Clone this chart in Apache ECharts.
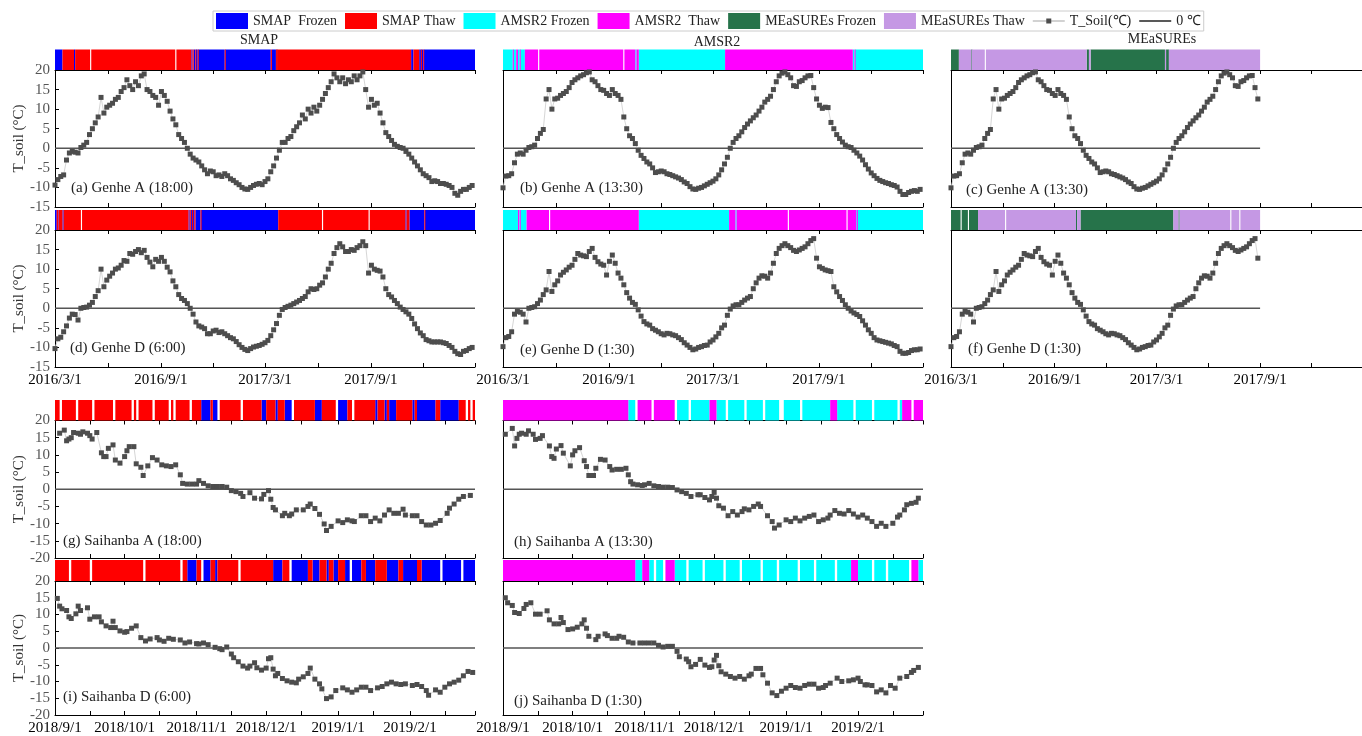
<!DOCTYPE html>
<html><head><meta charset="utf-8">
<script src="https://cdn.jsdelivr.net/npm/echarts@6/dist/echarts.min.js"></script>
<style>html,body{margin:0;padding:0;background:#fff}#c{width:1362px;height:736px}</style>
</head><body><div id="c"></div>
<script>
// ---------------- DATA ----------------
// Genhe soil temperature, one value every 5 days starting 2016-03-01
const genheStart = '2016-03-01';
const genheStepDays = 5;
const tGenheA_1800 = [-9.4,-8,-7.2,-6.8,-3,-1.2,-0.8,-1,-1.2,0.2,
 0.8,1.5,3.5,5,6.5,8,13,9,10.5,11,
 11.5,12.5,13,14.5,15.5,17.5,16,15,17,16,
 18.5,19,15,14.5,13.5,13,11,14.5,13.5,12,
 9.5,7.5,6,3.5,2.5,1.5,0,-1.5,-2.5,-3,
 -3.5,-4.5,-5.5,-6.5,-5.8,-6,-7,-6.8,-7.2,-6.5,
 -7,-7.8,-8.2,-8.8,-9.3,-10,-10.4,-10.5,-10,-9.5,
 -9.2,-9,-9.3,-8.5,-7.8,-6,-4.5,-2.5,-0.5,1.5,
 1.5,2.5,3,4.5,5.5,6.5,8.5,7.5,10,9,
 10.5,9.5,11,12.5,14,15.5,17,19,18,17,
 18,16.5,17.5,17,18.5,17.5,18.5,19.5,15,10.5,
 12.5,11,11.5,9,6.5,4,3,2,1,0.5,
 0.2,0,-0.8,-1.5,-2.5,-3.5,-4.5,-5.5,-6.5,-7,
 -7.5,-8.5,-8.3,-8.5,-9,-9,-9.2,-9.5,-10,-11.5,
 -12,-11,-10.5,-10.5,-10,-9.5];
const tGenheD_0600 = [-10.3,-7.8,-7.4,-6,-4.5,-2.5,-1.5,-1.6,-3,0,
 0.2,0.3,0.8,1.5,3,4.5,10,5.5,7.2,8.2,
 9,10,10.3,11,12.2,12,14,13.8,14.5,15,
 14.2,14.8,13,11.8,10.6,12.5,12,13,12,10.5,
 9.3,7,5.5,3.5,2.5,2,1.2,0,-1.5,-3.5,
 -4.5,-4.8,-5.2,-6.5,-6.5,-5.8,-5.6,-6.2,-6,-6.5,
 -7,-7.5,-7.8,-8.5,-9.3,-10,-10.5,-10.8,-10.3,-9.9,
 -9.7,-9.5,-9.2,-8.8,-8.2,-7,-5.5,-3.9,-1.8,-0.3,
 0.2,0.5,0.8,1.2,1.6,2,2.5,3,4.2,5,
 4.8,5,5.9,6.5,8,10,11.5,14,15.5,16.5,
 15.7,14.5,14.5,15,14.8,15.5,16,17,16,9,
 11,10,9.7,9.5,8,5,3.5,2.9,2,1.2,
 0.3,-0.3,-0.9,-1.5,-2.6,-4,-5.2,-6.3,-7,-8,
 -8.3,-8.6,-8.6,-8.6,-8.6,-8.8,-9,-9.5,-10,-11,
 -11.6,-11.8,-11,-10.8,-10.3,-10];
const tGenheA_1330 = [-10.1,-7.1,-7,-6.5,-3.7,-1.5,-1.2,-1.5,-0.5,0.2,
 0.4,0.8,2.5,3.8,4.8,12.6,15,10,12.6,12.8,
 13.5,14,14.5,15.5,16.8,17.5,18,18.5,18.8,19.3,
 19.5,17.5,17,16,15,14.8,14,13.5,15,14,
 13.5,12.5,8,5,3.2,2.5,1.2,-0.5,-1.8,-2.6,
 -3.5,-4,-5,-6.2,-6,-5.8,-6,-6.5,-6.7,-7,
 -7.3,-7.6,-8,-8.6,-9,-9.8,-10.4,-10.5,-10.2,-10,
 -9.6,-9.2,-8.8,-8.4,-7.8,-6.8,-5.5,-4,-2.3,0,
 1.5,2.5,3.2,4.2,5.3,6.2,7,7.8,8.5,9.5,
 10.5,11.8,12.5,13.3,15,17,18.5,19.2,19.5,18.8,
 18,16,15.8,17,17.3,18,18.5,18.6,15.5,12.6,
 11,10.2,10.5,10.4,6.6,5,3.5,2.5,1.6,0.8,
 0.4,0.2,-0.5,-1.2,-2,-3,-4.2,-5.3,-6.3,-7,
 -7.7,-8.2,-8.5,-8.8,-9,-9.3,-9.5,-9.9,-11,-11.8,
 -11.8,-11.3,-11,-10.8,-11,-10.5];
const tGenheD_0130 = [-9.8,-7.5,-7.2,-6,-1.5,-0.8,-1,-1.5,-3.5,0,
 0.2,0.4,1.2,2.1,3.5,4.7,9.4,4.3,6,7,
 8.5,9.2,9.8,10.5,11,12.5,14,13.6,13.4,13.2,
 14.5,15.3,13,11.9,11.3,11,8.5,12,13.6,11.5,
 9,7.7,6,4,2.6,1.5,1,-0.4,-2,-3.4,
 -4,-4.3,-5.2,-5.6,-6,-6.5,-6.8,-6.4,-6.5,-6.8,
 -7,-7.5,-8,-8.8,-9.4,-10,-10.6,-10.4,-10,-9.8,
 -9.5,-9.4,-8.6,-8.1,-7.3,-6.4,-5,-4.3,-1.8,-0.2,
 0.6,0.9,0.9,1.5,2.1,2.6,3,5,6.5,7.7,
 8.3,8.2,7.7,9,11.5,14,15.3,16,16.5,16,
 15.5,14.8,14.5,14.9,15.3,15.7,16.5,17.3,17.8,12.8,
 10.6,10.2,9.8,9.6,9.4,5.5,4.2,3,2,0.9,
 0,-0.7,-1.2,-1.6,-2.1,-3.2,-4.3,-5.5,-6.4,-7.5,
 -8.1,-8.3,-8.5,-8.7,-8.9,-9.1,-9.5,-9.8,-11,-11.5,
 -11.5,-11.3,-10.8,-10.6,-10.6,-10.4];

// Saihanba soil temperature ['M/D' (Sep-Dec 2018, Jan-Feb 2019), value]
const tSaiA_1800 = [['9/3',16.3],['9/5',17.2],['9/6',14.1],['9/7',14.6],['9/8',15],['9/9',16.5],['9/11',16.3],['9/12',16],['9/13',16.7],['9/15',16.3],['9/16',15.6],['9/17',14.6],['9/19',16.5],['9/21',10.6],['9/22',9.5],['9/23',9.5],['9/24',11.9],['9/26',12.9],['9/27',8.5],['9/29',7.6],
 ['10/1',9.5],['10/2',11.2],['10/3',12.4],['10/5',12.4],['10/6',7.4],['10/8',6.4],['10/9',4],['10/11',6.8],['10/13',9.2],['10/15',8.5],['10/17',7.1],['10/19',6.8],['10/21',6.6],['10/23',7.1],['10/25',4.2],['10/26',1.7],['10/28',1.5],['10/30',1.5],
 ['11/1',1.5],['11/2',2.5],['11/4',1.7],['11/6',1],['11/8',0.8],['11/10',0.8],['11/12',0.8],['11/14',0.6],['11/16',-0.4],['11/18',-0.7],['11/20',-1.2],['11/21',-2.1],['11/24',-1],['11/26',-2.6],['11/29',-2.8],['11/30',-1.5],
 ['12/2',-0.4],['12/3',-2.9],['12/4',-5.3],['12/5',-6],['12/8',-7.7],['12/9',-7],['12/11',-7.7],['12/12',-7.2],['12/14',-6],['12/17',-6],['12/19',-5],['12/20',-4.3],['12/22',-5.6],['12/24',-7.3],['12/26',-10.1],['12/27',-12],['12/29',-10.8],
 ['1/1',-9.2],['1/3',-9.7],['1/5',-8.9],['1/7',-9.2],['1/8',-9.4],['1/11',-7.7],['1/13',-7.7],['1/15',-9.4],['1/17',-8.4],['1/19',-9.2],['1/21',-7.5],['1/23',-6],['1/25',-7],['1/27',-7],['1/29',-5.8],['1/30',-7.5],
 ['2/2',-7.7],['2/4',-7.7],['2/6',-9.4],['2/8',-10.4],['2/10',-10.4],['2/12',-9.9],['2/14',-9.1],['2/17',-7],['2/18',-5.5],['2/20',-4.3],['2/22',-2.9],['2/24',-2.1],['2/27',-1.8]];
const tSaiD_0600 = [['9/2',14.8],['9/3',12.5],['9/4',11.7],['9/6',11.2],['9/7',9.3],['9/8',8.8],['9/10',10.2],['9/11',12.5],['9/12',11.2],['9/15',12],['9/16',8.6],['9/18',9.3],['9/20',9.3],['9/21',7.8],['9/23',6.6],['9/25',6.1],['9/26',8],['9/27',6.1],['9/29',5.1],
 ['10/1',4.7],['10/2',4.9],['10/4',5.9],['10/6',6.6],['10/8',3.1],['10/10',2.1],['10/12',2.7],['10/15',3.1],['10/16',2.4],['10/18',2],['10/20',2.9],['10/22',2.6],['10/25',2.4],['10/27',1.5],['10/29',1.8],
 ['11/1',1.3],['11/2',1.2],['11/4',1.5],['11/6',1],['11/9',0.2],['11/11',-0.2],['11/12',-0.5],['11/14',0.3],['11/16',-1.8],['11/17',-2.9],['11/19',-4.1],['11/21',-5.4],['11/23',-6],['11/24',-5.4],['11/26',-4.4],['11/27',-5.9],['11/29',-6.6],
 ['12/1',-6],['12/2',-3.2],['12/3',-2.9],['12/4',-6.3],['12/5',-8.3],['12/6',-7.6],['12/8',-9.1],['12/10',-9.8],['12/12',-10.2],['12/14',-10.4],['12/15',-9.3],['12/17',-8.6],['12/19',-7.6],['12/20',-6],['12/22',-9.3],['12/24',-10.7],['12/25',-12.2],['12/27',-15.1],['12/29',-14.6],['12/31',-12.7],
 ['1/3',-11.9],['1/5',-12.5],['1/7',-13.2],['1/9',-12.5],['1/11',-11.7],['1/13',-11.7],['1/15',-12.7],['1/18',-11.9],['1/20',-11.5],['1/22',-10.7],['1/24',-10.2],['1/26',-10.7],['1/28',-10.9],['1/30',-10.7],
 ['2/2',-11.2],['2/4',-10.9],['2/6',-11.5],['2/8',-12.7],['2/9',-14.1],['2/12',-12.5],['2/14',-13.2],['2/16',-11.7],['2/18',-10.7],['2/20',-10.2],['2/22',-9.6],['2/24',-8.3],['2/26',-7],['2/28',-7.3]];
const tSaiA_1330 = [['9/2',16],['9/5',17.7],['9/6',12.6],['9/7',14.8],['9/8',16],['9/9',16.3],['9/11',16],['9/12',17],['9/14',16],['9/15',14.5],['9/17',14.8],['9/18',15.6],['9/21',12.6],['9/22',9.5],['9/23',9],['9/24',11.7],['9/26',12.7],['9/27',10.5],['9/30',6.8],
 ['10/1',10],['10/2',11.2],['10/4',12.1],['10/6',8.3],['10/7',6.6],['10/8',4],['10/10',4],['10/11',6.1],['10/13',8.7],['10/15',8.5],['10/17',6.6],['10/18',5.6],['10/20',5.8],['10/22',5.8],['10/24',6.1],['10/25',4.2],['10/26',2.2],['10/27',1.5],['10/29',1.3],['10/31',1.1],
 ['11/1',1.3],['11/3',1.7],['11/5',1],['11/7',0.8],['11/9',0.6],['11/11',0.6],['11/13',0.5],['11/15',-0.2],['11/17',-0.7],['11/19',-1.2],['11/21',-2.1],['11/24',-1.6],['11/25',-1.6],['11/27',-2.4],['11/29',-3.1],['11/30',-2.1],
 ['12/1',-0.9],['12/2',-2.6],['12/3',-4.8],['12/5',-5.5],['12/7',-7.7],['12/9',-6.5],['12/11',-7.5],['12/13',-6.5],['12/14',-5.7],['12/16',-6],['12/18',-5],['12/20',-4.3],['12/21',-5],['12/24',-7.7],['12/26',-9.4],['12/27',-11.3],['12/29',-10.4],
 ['1/1',-8.9],['1/3',-9.4],['1/5',-8.4],['1/7',-9.2],['1/9',-8.4],['1/11',-7.9],['1/13',-7.5],['1/15',-9.4],['1/17',-8.9],['1/19',-8.4],['1/20',-7.5],['1/22',-6.2],['1/24',-7],['1/26',-7.2],['1/28',-6.2],['1/30',-7.2],
 ['2/1',-8.1],['2/3',-7.5],['2/5',-8.4],['2/7',-9.4],['2/9',-10.8],['2/11',-9.9],['2/13',-10.8],['2/16',-9.9],['2/18',-8.1],['2/19',-7.5],['2/21',-6],['2/22',-4.5],['2/24',-4.1],['2/26',-3.8],['2/27',-2.6]];
const tSaiD_0130 = [['9/2',15],['9/3',13.5],['9/5',12.7],['9/6',10.6],['9/8',10.3],['9/10',11.8],['9/11',13],['9/13',13.5],['9/15',10.1],['9/17',10.1],['9/20',11.1],['9/21',8.4],['9/23',7.2],['9/25',7.2],['9/26',9.1],['9/27',7.6],['9/29',5.5],
 ['10/1',5.7],['10/3',6.2],['10/5',7.2],['10/6',8.4],['10/7',5.9],['10/8',3.5],['10/11',2.5],['10/12',3.5],['10/15',4.2],['10/16',3.7],['10/18',2.9],['10/20',2.9],['10/21',3.5],['10/23',3.2],['10/25',1.8],['10/27',1.5],['10/30',1.5],
 ['11/1',1.5],['11/3',1.5],['11/5',1.5],['11/7',0.8],['11/9',0.3],['11/11',0.5],['11/13',0.5],['11/15',-1],['11/16',-2.6],['11/19',-3.3],['11/20',-4.1],['11/21',-5.6],['11/23',-4.9],['11/25',-3.4],['11/27',-5.1],['11/29',-5.8],['11/30',-5.6],
 ['12/1',-3.6],['12/2',-2.2],['12/3',-5.3],['12/4',-7.1],['12/6',-7.8],['12/8',-8.5],['12/10',-9],['12/12',-8.5],['12/14',-9.3],['12/16',-8.3],['12/17',-7.8],['12/19',-6.1],['12/21',-6.1],['12/22',-8],['12/24',-10.5],['12/26',-13.4],['12/28',-14.2],['12/30',-12.9],
 ['1/1',-12],['1/3',-11.2],['1/5',-11.8],['1/7',-12],['1/9',-11.2],['1/11',-10.8],['1/13',-10.8],['1/15',-12],['1/17',-11.8],['1/18',-11.2],['1/20',-10.5],['1/23',-9],['1/25',-10],['1/28',-9.8],['1/30',-9.5],
 ['2/1',-9],['2/2',-10],['2/4',-11],['2/5',-11],['2/7',-11.2],['2/9',-13.1],['2/11',-12.5],['2/13',-13.4],['2/15',-11.2],['2/17',-12],['2/19',-9],['2/22',-8.5],['2/24',-7.3],['2/25',-6.7],['2/27',-5.8]];

// Freeze/thaw state strips: change points [date, state]; F frozen, T thaw, N no data, E end
const stripGenheA_SMAP = [['2016-03-01','F'],['2016-03-14','T'],['2016-04-03','F'],['2016-04-05','T'],['2016-05-01','N'],['2016-05-03','T'],['2016-09-26','N'],['2016-09-28','T'],['2016-10-24','F'],['2016-10-26','T'],['2016-10-28','F'],['2016-10-31','T'],['2016-11-01','F'],['2016-11-04','T'],['2016-11-05','F'],['2016-12-21','T'],['2016-12-22','F'],['2017-03-11','T'],['2017-03-13','F'],['2017-03-20','T'],['2017-03-21','F'],['2017-03-22','T'],['2017-11-10','F'],['2017-11-14','T'],['2017-11-24','F'],['2017-11-27','T'],['2017-11-28','F'],['2017-12-01','T'],['2017-12-02','F'],['2018-03-01','E']];
const stripGenheD_SMAP = [['2016-03-01','F'],['2016-03-04','T'],['2016-03-07','F'],['2016-03-08','T'],['2016-03-14','F'],['2016-03-16','T'],['2016-04-15','N'],['2016-04-17','T'],['2016-10-19','F'],['2016-10-21','T'],['2016-10-23','F'],['2016-10-25','T'],['2016-10-27','F'],['2016-10-29','T'],['2016-10-31','F'],['2016-11-09','T'],['2016-11-10','F'],['2017-03-24','T'],['2017-06-08','N'],['2017-06-10','T'],['2017-08-28','N'],['2017-08-30','T'],['2017-10-31','F'],['2017-11-02','T'],['2017-11-07','F'],['2017-12-03','T'],['2017-12-04','F'],['2018-03-01','E']];
const stripGenheA_AMSR2 = [['2016-03-01','F'],['2016-03-18','T'],['2016-03-19','F'],['2016-03-24','T'],['2016-03-27','F'],['2016-03-30','T'],['2016-03-31','F'],['2016-04-08','T'],['2016-05-01','N'],['2016-05-03','T'],['2016-09-26','N'],['2016-09-28','T'],['2016-10-17','F'],['2016-10-19','T'],['2016-10-23','F'],['2017-03-22','T'],['2017-10-30','F'],['2017-11-02','T'],['2017-11-03','F'],['2018-03-01','E']];
const stripGenheD_AMSR2 = [['2016-03-01','F'],['2016-03-27','T'],['2016-03-28','F'],['2016-03-30','T'],['2016-03-31','F'],['2016-04-11','T'],['2016-05-20','N'],['2016-05-22','T'],['2016-10-23','F'],['2017-03-29','T'],['2017-04-09','F'],['2017-04-11','T'],['2017-07-09','N'],['2017-07-11','T'],['2017-10-19','N'],['2017-10-21','T'],['2017-11-05','F'],['2017-11-06','T'],['2017-11-07','F'],['2018-03-01','E']];
const stripGenheA_MEaSUREs = [['2016-03-01','F'],['2016-03-15','T'],['2016-04-06','F'],['2016-04-07','T'],['2016-04-30','N'],['2016-05-02','T'],['2016-10-28','F'],['2016-11-01','T'],['2016-11-04','F'],['2017-03-16','T'],['2017-03-18','F'],['2017-03-23','T'],['2017-09-01','E']];
const stripGenheD_MEaSUREs = [['2016-03-01','F'],['2016-03-18','N'],['2016-03-20','F'],['2016-03-31','N'],['2016-04-02','F'],['2016-04-18','T'],['2016-06-05','N'],['2016-06-07','T'],['2016-10-09','F'],['2016-10-11','T'],['2016-10-17','F'],['2017-03-31','T'],['2017-04-09','F'],['2017-04-11','T'],['2017-07-10','N'],['2017-07-12','T'],['2017-07-26','N'],['2017-07-28','T'],['2017-09-01','E']];
const stripSaiA_SMAP = [['9/1','T'],['9/3','N'],['9/4','T'],['9/10','N'],['9/11','T'],['9/17','N'],['9/18','T'],['9/26','N'],['9/27','T'],['10/4','N'],['10/5','T'],['10/6','N'],['10/7','T'],['10/13','N'],['10/14','T'],['10/20','N'],['10/21','T'],['10/22','N'],['10/23','T'],['10/29','N'],['10/30','T'],['11/3','F'],['11/7','T'],['11/8','F'],['11/10','N'],['11/11','T'],['11/20','N'],['11/21','T'],['11/29','F'],['12/1','T'],['12/5','F'],['12/6','T'],['12/9','F'],['12/12','N'],['12/13','T'],['12/22','F'],['12/25','T'],['12/31','N'],['1/1','F'],['1/5','T'],['1/7','N'],['1/8','T'],['1/17','F'],['1/18','T'],['1/21','F'],['1/22','T'],['1/23','F'],['1/26','T'],['2/2','F'],['2/3','T'],['2/4','F'],['2/12','T'],['2/14','F'],['2/22','T'],['2/25','N'],['2/26','T'],['2/27','N'],['2/28','T'],['3/1','E']];
const stripSaiD_SMAP = [['9/1','T'],['9/7','N'],['9/8','T'],['9/16','N'],['9/17','T'],['10/9','N'],['10/10','T'],['10/25','N'],['10/26','T'],['10/28','F'],['11/1','T'],['11/3','N'],['11/4','F'],['11/7','T'],['11/9','F'],['11/10','T'],['11/19','N'],['11/20','T'],['12/4','F'],['12/8','T'],['12/11','N'],['12/12','F'],['12/19','T'],['12/21','F'],['12/24','T'],['12/27','F'],['12/28','T'],['12/30','F'],['1/1','T'],['1/4','F'],['1/6','N'],['1/7','F'],['1/11','T'],['1/13','F'],['1/17','T'],['1/22','F'],['1/27','T'],['1/29','F'],['2/4','T'],['2/6','F'],['2/14','N'],['2/15','F'],['2/23','N'],['2/24','F'],['3/1','E']];
const stripSaiA_AMSR2 = [['9/1','T'],['10/25','F'],['10/28','N'],['10/29','T'],['11/4','N'],['11/5','T'],['11/14','N'],['11/15','F'],['11/20','N'],['11/21','F'],['11/29','T'],['12/2','F'],['12/6','N'],['12/7','F'],['12/14','N'],['12/15','F'],['12/22','N'],['12/23','F'],['12/29','N'],['12/31','F'],['1/7','N'],['1/8','F'],['1/20','T'],['1/23','F'],['1/30','N'],['1/31','F'],['2/7','N'],['2/8','F'],['2/18','N'],['2/19','F'],['2/20','T'],['2/24','N'],['2/25','T'],['3/1','E']];
const stripSaiD_AMSR2 = [['9/1','T'],['10/28','F'],['10/31','T'],['11/3','F'],['11/5','N'],['11/6','F'],['11/9','N'],['11/10','T'],['11/14','F'],['11/19','N'],['11/20','F'],['11/26','N'],['11/27','F'],['12/5','N'],['12/6','F'],['12/12','N'],['12/13','F'],['12/21','N'],['12/22','F'],['12/28','N'],['12/29','F'],['1/6','N'],['1/7','F'],['1/13','N'],['1/14','F'],['1/22','N'],['1/23','F'],['1/29','T'],['2/1','F'],['2/7','N'],['2/8','F'],['2/13','N'],['2/14','F'],['2/23','N'],['2/24','T'],['2/27','F'],['3/1','E']];

// Axis ticks / labels
const genheRange = ['2016-03-01','2018-03-01'];
const genheTickDates = ['2016-03-01','2016-06-01','2016-09-01','2016-12-01','2017-03-01','2017-06-01','2017-09-01','2017-12-01','2018-03-01'];
const genheLabelDates = ['2016-03-01','2016-09-01','2017-03-01','2017-09-01'];
const saiRange = ['9/1','3/1'];
const saiTickDates = ['9/1','9/16','10/1','10/16','11/1','11/16','12/1','12/16','1/1','1/16','2/1','2/16','3/1'];
const saiLabelDates = ['9/1','10/1','11/1','12/1','1/1','2/1'];
const genheYTicks = [-15,20,5];   // min, max, step
const saiYTicks = [-20,20,5];

// ---------------- BUILD ----------------
function ts(s){ const p=s.split('-').map(Number); return new Date(p[0],p[1]-1,p[2]).getTime(); }
function sts(s){ const p=s.split('/').map(Number); return new Date(p[0]>=9?2018:2019,p[0]-1,p[1]).getTime(); }
function genheData(vals, last){
  const lim = last ? ts(last) : Infinity;
  const st = ts(genheStart);
  const out=[];
  vals.forEach((v,i)=>{ const d0=new Date(st); d0.setDate(d0.getDate()+genheStepDays*i); const d=d0.getTime(); if(d<=lim) out.push([d,v]); });
  return out;
}
function saiData(arr){ return arr.map(p=>[sts(p[0]),p[1]]); }
function runs(ch, parse){
  const r={F:[],T:[]};
  for(let i=0;i<ch.length-1;i++){ const s=ch[i][1]; if(s==='F'||s==='T') r[s].push([parse(ch[i][0]),parse(ch[i+1][0])]); }
  return r;
}
const PROD = {
  SMAP:{F:'SMAP  Frozen',T:'SMAP Thaw',cF:'#0000ff',cT:'#ff0000'},
  AMSR2:{F:'AMSR2 Frozen',T:'AMSR2  Thaw',cF:'#00ffff',cT:'#ff00ff'},
  MEaSUREs:{F:'MEaSUREs Frozen',T:'MEaSUREs Thaw',cF:'#26734a',cT:'#c598e4'}
};
const L1=55, L2=503, L3=951, W=420;
const panels = [
 {left:L1,sTop:49.5,sH:20.5,top:70,h:137,site:'g',prod:'SMAP',strip:stripGenheA_SMAP,data:genheData(tGenheA_1800),zero:genheRange,yLab:true,xLab:false,label:'(a) Genhe A (18:00)',lx:71,ly:190},
 {left:L2,sTop:49.5,sH:20.5,top:70,h:137,site:'g',prod:'AMSR2',strip:stripGenheA_AMSR2,data:genheData(tGenheA_1330),zero:genheRange,yLab:false,xLab:false,label:'(b) Genhe A (13:30)',lx:520,ly:190},
 {left:L3,sTop:49.5,sH:20.5,top:70,h:137,site:'g',prod:'MEaSUREs',strip:stripGenheA_MEaSUREs,data:genheData(tGenheA_1330,'2017-09-01'),zero:['2016-03-01','2017-09-01'],yLab:false,xLab:false,label:'(c) Genhe A (13:30)',lx:966,ly:192},
 {left:L1,sTop:210,sH:20,top:230,h:137,site:'g',prod:'SMAP',strip:stripGenheD_SMAP,data:genheData(tGenheD_0600),zero:genheRange,yLab:true,xLab:true,label:'(d) Genhe D (6:00)',lx:70,ly:350},
 {left:L2,sTop:210,sH:20,top:230,h:137,site:'g',prod:'AMSR2',strip:stripGenheD_AMSR2,data:genheData(tGenheD_0130),zero:genheRange,yLab:false,xLab:true,label:'(e) Genhe D (1:30)',lx:520,ly:352},
 {left:L3,sTop:210,sH:20,top:230,h:137,site:'g',prod:'MEaSUREs',strip:stripGenheD_MEaSUREs,data:genheData(tGenheD_0130,'2017-09-01'),zero:['2016-03-01','2017-09-01'],yLab:false,xLab:true,label:'(f) Genhe D (1:30)',lx:968,ly:351},
 {left:L1,sTop:400,sH:20.5,top:420.5,h:137.5,site:'s',prod:'SMAP',strip:stripSaiA_SMAP,data:saiData(tSaiA_1800),zero:saiRange,yLab:true,xLab:false,label:'(g) Saihanba A (18:00)',lx:63,ly:543},
 {left:L2,sTop:400,sH:20.5,top:420.5,h:137.5,site:'s',prod:'AMSR2',strip:stripSaiA_AMSR2,data:saiData(tSaiA_1330),zero:saiRange,yLab:false,xLab:false,label:'(h) Saihanba A (13:30)',lx:514,ly:544},
 {left:L1,sTop:560,sH:21,top:581,h:137,site:'s',prod:'SMAP',strip:stripSaiD_SMAP,data:saiData(tSaiD_0600),zero:saiRange,yLab:true,xLab:true,label:'(i) Saihanba D (6:00)',lx:63,ly:699},
 {left:L2,sTop:560,sH:21,top:581,h:137,site:'s',prod:'AMSR2',strip:stripSaiD_AMSR2,data:saiData(tSaiD_0130),zero:saiRange,yLab:false,xLab:true,label:'(j) Saihanba D (1:30)',lx:514,ly:703}
];
const FONT='"Liberation Serif","Times New Roman",serif';
function fmtDate(v){ const d=new Date(v); return d.getFullYear()+'/'+(d.getMonth()+1)+'/'+d.getDate(); }
function stripItem(params, api){
  const a=api.coord([api.value(0),1]), b=api.coord([api.value(1),0]);
  const cs=params.coordSys;
  const x0=Math.max(a[0],cs.x), x1=Math.min(b[0],cs.x+cs.width);
  let w=x1-x0; if(w<=0) return null; if(w<1) w=1;
  return {type:'rect',shape:{x:x0,y:a[1],width:w,height:b[1]-a[1]},style:{fill:api.visual('color')}};
}
const grid=[],xAxis=[],yAxis=[],series=[],graphic=[];
panels.forEach(p=>{
  const isG=p.site==='g';
  const parse=isG?ts:sts;
  const rng=isG?genheRange:saiRange;
  const xmin=parse(rng[0]), xmax=parse(rng[1]);
  const ticks=(isG?genheTickDates:saiTickDates).map(parse);
  const labs=(isG?genheLabelDates:saiLabelDates).map(parse);
  const yt=isG?genheYTicks:saiYTicks;
  const gs=grid.length;
  grid.push({left:p.left,top:p.sTop,width:W,height:p.sH});
  grid.push({left:p.left,top:p.top,width:W,height:p.h});
  const xs=xAxis.length;
  xAxis.push({type:'value',gridIndex:gs,min:xmin,max:xmax,show:false,scale:true});
  xAxis.push({type:'value',gridIndex:gs+1,min:xmin,max:xmax,position:'bottom',scale:true,
    axisLine:{show:true,onZero:false,lineStyle:{color:'#000',width:1}},
    axisTick:{show:true,inside:true,length:4,customValues:ticks,lineStyle:{color:'#000'}},
    axisLabel:{show:p.xLab,customValues:labs,formatter:fmtDate,color:'#000',fontFamily:FONT,fontSize:15,margin:6},
    splitLine:{show:false}});
  xAxis.push({type:'value',gridIndex:gs+1,min:xmin,max:xmax,position:'top',scale:true,
    axisLine:{show:true,onZero:false,lineStyle:{color:'#000',width:1}},
    axisTick:{show:true,inside:true,length:4,customValues:ticks,lineStyle:{color:'#000'}},
    axisLabel:{show:false},splitLine:{show:false}});
  const ys=yAxis.length;
  yAxis.push({type:'value',gridIndex:gs,min:0,max:1,show:false});
  yAxis.push({type:'value',gridIndex:gs+1,min:yt[0],max:yt[1],interval:yt[2],
    axisLine:{show:true,onZero:false,lineStyle:{color:'#000',width:1}},
    axisTick:{show:p.yLab,inside:true,length:4,lineStyle:{color:'#000'}},
    axisLabel:{show:p.yLab,color:'#555',fontFamily:FONT,fontSize:15,margin:5},
    splitLine:{show:false},
    name:p.yLab?'T_soil (°C)':'',nameLocation:'middle',nameGap:27,
    nameTextStyle:{color:'#333',fontFamily:FONT,fontSize:15}});
  const pr=PROD[p.prod];
  const r=runs(p.strip,parse);
  series.push({type:'custom',name:pr.F,xAxisIndex:xs,yAxisIndex:ys,renderItem:stripItem,itemStyle:{color:pr.cF},data:r.F,silent:true});
  series.push({type:'custom',name:pr.T,xAxisIndex:xs,yAxisIndex:ys,renderItem:stripItem,itemStyle:{color:pr.cT},data:r.T,silent:true});
  series.push({type:'line',name:'0 ℃',xAxisIndex:xs+1,yAxisIndex:ys+1,data:[[parse(p.zero[0]),0],[parse(p.zero[1]),0]],
    symbol:'none',lineStyle:{color:'#555',width:1.5},itemStyle:{color:'#222'},z:2,silent:true});
  series.push({type:'line',name:'T_Soil(℃)',xAxisIndex:xs+1,yAxisIndex:ys+1,data:p.data,symbol:'rect',symbolSize:5,showAllSymbol:true,
    itemStyle:{color:'#4d4d4d'},lineStyle:{color:'#d6d6d6',width:1},z:3,silent:true});
  graphic.push({type:'text',left:p.lx,top:p.ly-9,style:{text:p.label,font:'15px '+FONT,fill:'#222'},silent:true});
});
[['SMAP',259,40],['AMSR2',717,42],['MEaSUREs',1162,39]].forEach(t=>{
  graphic.push({type:'text',x:t[1],y:t[2],style:{text:t[0],font:'14px '+FONT,fill:'#222',textAlign:'center',textVerticalAlign:'middle'},silent:true});
});
const chart=echarts.init(document.getElementById('c'),null,{renderer:'canvas',devicePixelRatio:1});
chart.setOption({
  animation:false,
  backgroundColor:'#fff',
  legend:{left:213,top:11,itemWidth:32,itemHeight:16,itemGap:8,padding:[2,3],
    borderColor:'#ccc',borderWidth:1,selectedMode:false,symbolKeepAspect:true,
    textStyle:{fontFamily:FONT,fontSize:14,color:'#222'},
    data:[{name:'SMAP  Frozen',icon:'rect'},{name:'SMAP Thaw',icon:'rect'},{name:'AMSR2 Frozen',icon:'rect'},{name:'AMSR2  Thaw',icon:'rect'},
          {name:'MEaSUREs Frozen',icon:'rect'},{name:'MEaSUREs Thaw',icon:'rect'},
          {name:'T_Soil(℃)',icon:'path://M0,2.2h13.5v-2.2h5v2.2h13.5v0.6h-13.5v2.2h-5v-2.2h-13.5z'},
          {name:'0 ℃',icon:'path://M0,0h32v1.3h-32z'}]},
  grid, xAxis, yAxis, series, graphic
});
</script></body></html>
